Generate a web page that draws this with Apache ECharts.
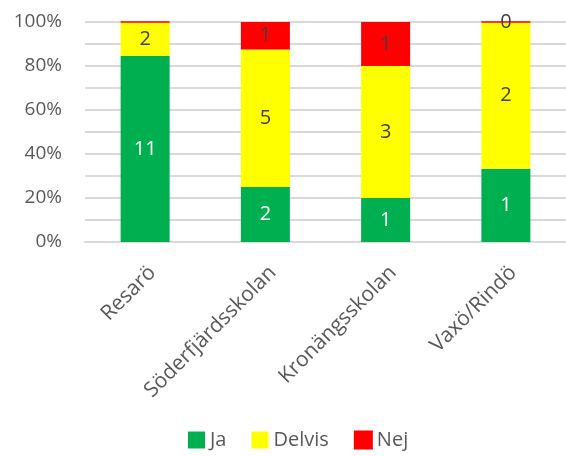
<!DOCTYPE html>
<html><head><meta charset="utf-8">
<script src="https://cdn.jsdelivr.net/npm/echarts@6/dist/echarts.min.js"></script>
<style>html,body{margin:0;padding:0;background:#fff}#c{width:566px;height:456px}</style>
</head><body><div id="c"></div>
<script>
const categories = ['Resarö', 'Söderfjärdsskolan', 'Kronängsskolan', 'Vaxö/Rindö'];
const ja = [11, 2, 1, 1];
const delvis = [2, 5, 3, 2];
const nej = [0, 1, 1, 0];
const showNejLabel = [false, true, true, true];
const yTicks = [0, 20, 40, 60, 80, 100];

const totals = categories.map((_, i) => ja[i] + delvis[i] + nej[i]);
const pct = (arr) => arr.map((v, i) => ({ value: v / totals[i] * 100, raw: v }));
const FONT = 'Open Sans';
const FS = 20;
const chart = echarts.init(document.getElementById('c'), null, { renderer: 'canvas' });

function series(name, arr, color, labelColor, extra) {
  return Object.assign({
    name, type: 'bar', stack: 'total', barWidth: 49,
    itemStyle: { color },
    label: { show: true, position: 'inside', color: labelColor, fontFamily: FONT, fontSize: FS,
      formatter: p => String(p.data.raw) },
    data: pct(arr)
  }, extra || {});
}

const nejData = pct(nej).map((d, i) => Object.assign(d, { label: { show: showNejLabel[i] } }));

chart.setOption({
  animation: false,
  textStyle: { fontFamily: FONT },
  grid: { left: 85, right: -3, top: 22, height: 220, containLabel: false },
  legend: {
    bottom: 1, left: 183, itemWidth: 17, itemHeight: 17, itemGap: 25,
    icon: 'rect',
    textStyle: { fontFamily: FONT, fontSize: FS, color: '#595959' },
    data: ['Ja', 'Delvis', 'Nej']
  },
  xAxis: {
    type: 'category', data: categories,
    axisLine: { lineStyle: { color: '#d9d9d9', width: 2 } },
    axisTick: { show: false },
    axisLabel: { rotate: 45, margin: 20, verticalAlign: 'top', fontFamily: FONT, fontSize: 21, color: '#595959' }
  },
  yAxis: {
    type: 'value', min: yTicks[0], max: yTicks[yTicks.length - 1], interval: 20,
    axisLine: { show: false }, axisTick: { show: false },
    axisLabel: { margin: 23, fontFamily: FONT, fontSize: 19, color: '#595959', formatter: '{value}%' },
    splitLine: { lineStyle: { color: '#d9d9d9', width: 2 } },
    minorTick: { show: false, splitNumber: 2 },
    minorSplitLine: { show: true, lineStyle: { color: '#d9d9d9', width: 2 } }
  },
  series: [
    series('Ja', ja, '#00b050', '#ffffff'),
    series('Delvis', delvis, '#ffff00', '#404040'),
    Object.assign(series('Nej', nej, '#ff0000', '#404040',
      { itemStyle: { color: '#ff0000', borderColor: '#ff0000', borderWidth: 1.5 } }), { data: nejData })
  ]
});
</script></body></html>
